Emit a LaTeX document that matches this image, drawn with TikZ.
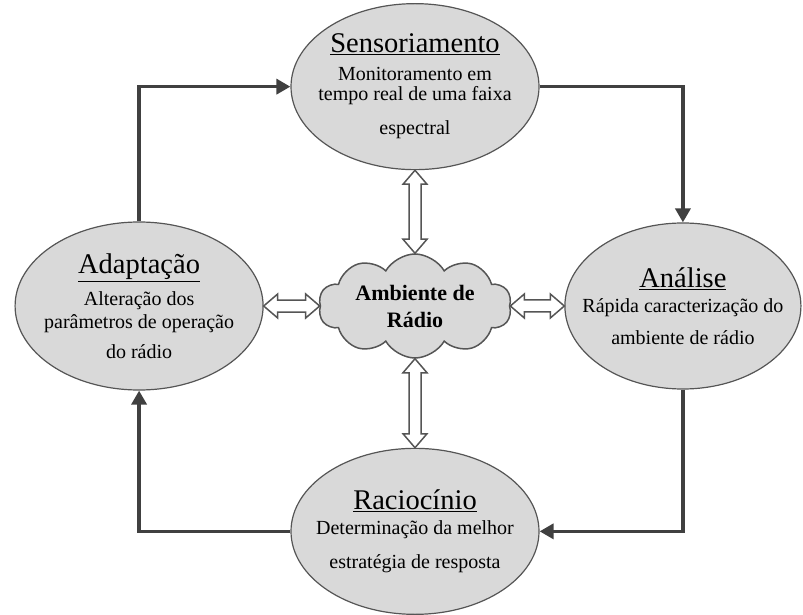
\documentclass[tikz,border=0pt]{standalone}
\usepackage{fontspec}
\setmainfont{Liberation Serif}
\usepackage{tikz}
\usetikzlibrary{shapes,arrows.meta,positioning,calc}
\usepackage{xcolor}
\definecolor{phasegray}{RGB}{217,217,217}
\definecolor{edgegray}{RGB}{85,85,85}
\definecolor{flowgray}{RGB}{64,64,64}
\newcommand{\titl}[1]{{\fontsize{28.5}{28.5}\selectfont\underline{#1}}}
\newcommand{\vdbl}[2]{\draw[hollow] (#1) -- ++(12,-14) -- ++(-6,0) -- ($(#2)+(6,14)$) -- ++(6,0) -- (#2) -- ++(-12,14) -- ++(6,0) -- ($(#1)+(-6,-14)$) -- ++(-6,0) -- cycle;}
\newcommand{\hdbl}[2]{\draw[hollow] (#1) -- ++(14,12) -- ++(0,-6) -- ($(#2)+(-14,6)$) -- ++(0,6) -- (#2) -- ++(-14,-12) -- ++(0,6) -- ($(#1)+(14,-6)$) -- ++(0,-6) -- cycle;}

\begin{document}
\begin{tikzpicture}[
    x=1pt, y=1pt,
    phase/.style={ellipse, draw=edgegray, line width=1.2pt, fill=phasegray, minimum width=248pt, minimum height=166pt, inner sep=0pt},
    txt/.style={align=center, font=\fontsize{20}{20}\selectfont, inner sep=0pt},
    flow/.style={draw=flowgray, line width=3.5pt, -{Triangle[length=14pt,width=15pt]}},
    hollow/.style={draw=edgegray, line width=1.5pt, fill=white}
]
    \useasboundingbox (0,0) rectangle (803,614);

    \node[cloud, cloud puffs=10, cloud puff arc=120, aspect=1.85, draw=edgegray, line width=1.5pt, fill=phasegray, minimum width=193pt, minimum height=104pt, inner sep=0pt] (amb) at (415,308) {};

    \node[phase, above=83pt of amb] (sens) {};
    \node[phase, below=89pt of amb] (rac) {};
    \node[phase, minimum height=168pt, left=56pt of amb] (adap) {};
    \node[phase, minimum width=236pt, right=54pt of amb] (anal) {};

    \node[txt] (sens-txt) at (sens) {\titl{Sensoriamento}\\[8pt] Monitoramento em\\[0pt] tempo real de uma faixa\\[14pt] espectral};
    \node[txt] (adap-txt) at (adap) {\titl{Adaptação}\\[9pt] Alteração dos\\[3pt] parâmetros de operação\\[10pt] do rádio};
    \node[txt] (anal-txt) at (anal) {\titl{Análise}\\[5pt] Rápida caracterização do\\[12pt] ambiente de rádio};
    \node[txt] (rac-txt) at (rac) {\titl{Raciocínio}\\[5pt] Determinação da melhor\\[14pt] estratégia de resposta};
    \node[txt, font=\bfseries\fontsize{22}{27}\selectfont] (amb-txt) at (amb) {Ambiente de\\Rádio};

    % cognitive cycle
    \draw[flow] (adap.north) |- (sens.west);
    \draw[flow] (sens.east) -| (anal.north);
    \draw[flow] (anal.south) |- (rac.east);
    \draw[flow] (rac.west) -| (adap.south);

    % links to the radio environment
    \vdbl{sens.south}{amb.north}
    \vdbl{amb.south}{rac.north}
    \hdbl{adap.east}{amb.west}
    \hdbl{amb.east}{anal.west}
\end{tikzpicture}
\end{document}
